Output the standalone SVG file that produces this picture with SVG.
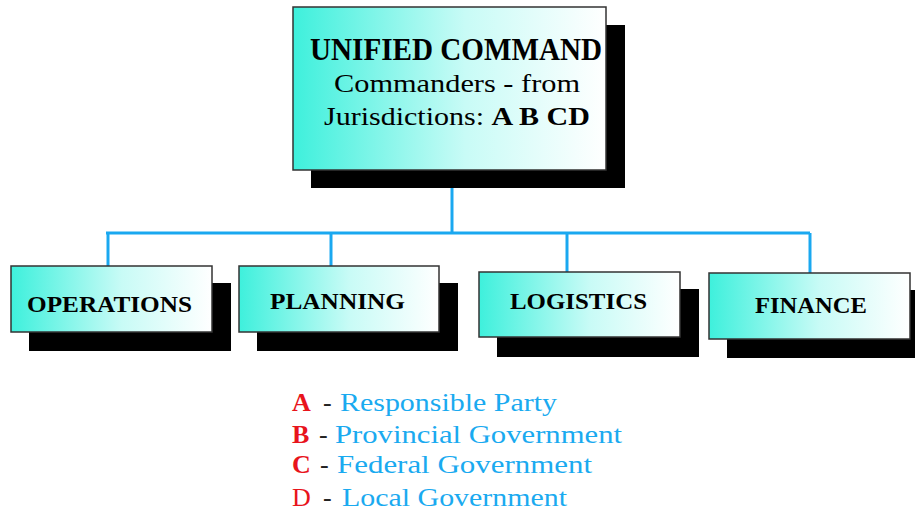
<svg xmlns="http://www.w3.org/2000/svg" width="915" height="513" viewBox="0 0 915 513">
  <defs>
    <linearGradient id="fill" x1="0" y1="0" x2="1" y2="0">
      <stop offset="0" stop-color="#3ef0dc"/>
      <stop offset="0.55" stop-color="#c8fbf6"/>
      <stop offset="1" stop-color="#ffffff"/>
    </linearGradient>
    <style>
      .shadow { fill: #000; }
      .box { fill: url(#fill); stroke: #333; stroke-width: 1.5; }
      .title { font-family: "Liberation Serif", serif; font-weight: bold; fill: #000; }
      .sub { font-family: "Liberation Serif", serif; fill: #000; }
      .line { fill: none; stroke: #1aa8f0; stroke-width: 3; }
      .key { font-family: "Liberation Serif", serif; font-size: 26px; fill: #e8141c; }
      .dash { fill: #222; }
      .desc { fill: #1aaaf0; }
    </style>
  </defs>

  <!-- connectors -->
  <g id="connectors">
    <path class="line" d="M452 188 V233"/>
    <path class="line" d="M106 233 H810"/>
    <path class="line" d="M108 233 V266"/>
    <path class="line" d="M331 233 V266"/>
    <path class="line" d="M567 233 V272"/>
    <path class="line" d="M810 233 V273"/>
  </g>

  <!-- top node -->
  <g id="unified-command">
    <rect class="shadow" x="311" y="25" width="314" height="163"/>
    <rect class="box" x="293" y="7" width="313" height="163"/>
    <text class="title" x="310" y="60" font-size="32" textLength="292" lengthAdjust="spacingAndGlyphs">UNIFIED COMMAND</text>
    <text class="sub" x="334" y="92" font-size="25" textLength="246" lengthAdjust="spacingAndGlyphs">Commanders - from</text>
    <text class="sub" x="324" y="125" font-size="25" textLength="266" lengthAdjust="spacingAndGlyphs">Jurisdictions: <tspan font-weight="bold">A B CD</tspan></text>
  </g>

  <g id="operations">
    <rect class="shadow" x="29" y="283" width="202" height="68"/>
    <rect class="box" x="11" y="266" width="201" height="66"/>
    <text class="title" x="27" y="312" font-size="24" textLength="165" lengthAdjust="spacingAndGlyphs">OPERATIONS</text>
  </g>

  <g id="planning">
    <rect class="shadow" x="257" y="283" width="201" height="68"/>
    <rect class="box" x="239" y="266" width="200" height="66"/>
    <text class="title" x="270" y="309" font-size="24" textLength="135" lengthAdjust="spacingAndGlyphs">PLANNING</text>
  </g>

  <g id="logistics">
    <rect class="shadow" x="497" y="289" width="202" height="68"/>
    <rect class="box" x="479" y="272" width="201" height="65"/>
    <text class="title" x="510" y="309" font-size="24" textLength="137" lengthAdjust="spacingAndGlyphs">LOGISTICS</text>
  </g>

  <g id="finance">
    <rect class="shadow" x="727" y="290" width="200" height="68"/>
    <rect class="box" x="709" y="273" width="201" height="66"/>
    <text class="title" x="755" y="313" font-size="24" textLength="112" lengthAdjust="spacingAndGlyphs">FINANCE</text>
  </g>

  <!-- legend -->
  <g id="legend">
    <text class="key" y="411"><tspan x="292" font-weight="bold">A</tspan><tspan class="dash" x="323">-</tspan><tspan class="desc" x="340" textLength="217" lengthAdjust="spacingAndGlyphs">Responsible Party</tspan></text>
    <text class="key" y="443"><tspan x="292" font-weight="bold">B</tspan><tspan class="dash" x="319">-</tspan><tspan class="desc" x="335" textLength="287" lengthAdjust="spacingAndGlyphs">Provincial Government</tspan></text>
    <text class="key" y="473"><tspan x="292" font-weight="bold">C</tspan><tspan class="dash" x="320">-</tspan><tspan class="desc" x="337" textLength="255" lengthAdjust="spacingAndGlyphs">Federal Government</tspan></text>
    <text class="key" y="506"><tspan x="292">D</tspan><tspan class="dash" x="323">-</tspan><tspan class="desc" x="342" textLength="225" lengthAdjust="spacingAndGlyphs">Local Government</tspan></text>
  </g>
</svg>
